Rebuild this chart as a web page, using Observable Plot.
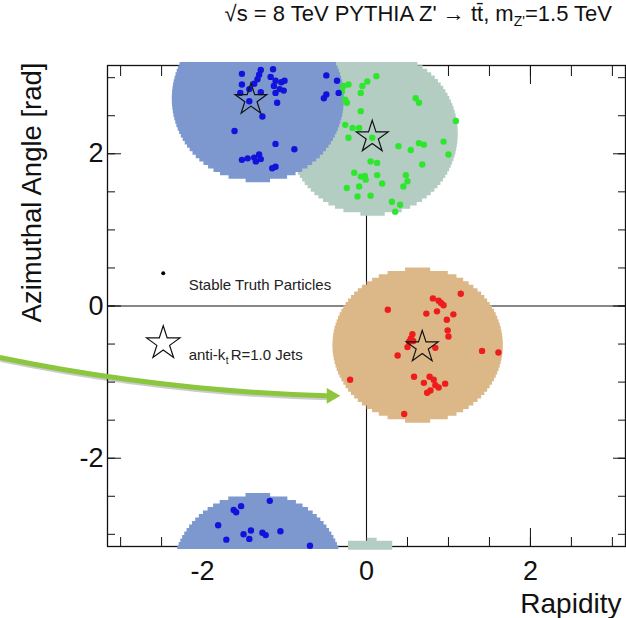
<!DOCTYPE html>
<html>
<head>
<meta charset="utf-8">
<script src="https://cdn.jsdelivr.net/npm/d3@7"></script>
<script src="https://cdn.jsdelivr.net/npm/@observablehq/plot@0.6"></script>
<style>
  html, body { margin: 0; padding: 0; background: #fff; }
  #wrap { position: relative; width: 626px; height: 618px; font-family: "Liberation Sans", Arial, sans-serif; }
  #title { position: absolute; top: 0; left: 0; overflow: visible; }
</style>
</head>
<body>
<div id="wrap">
  <div id="chart"></div>
  <svg id="title" width="626" height="34" font-family="'Liberation Sans', Arial, sans-serif" fill="#111" font-size="22">
    <text x="612" y="21" text-anchor="end">√s = 8 TeV PYTHIA Z' → tt̄, m<tspan font-size="14" dy="5">Z'</tspan><tspan dy="-5">=1.5 TeV</tspan></text>
  </svg>
</div>
<script>
// ---------- data (rapidity, azimuthal angle) ----------
const blueParticles = [
  [-1.52,3.05],[-1.29,3.10],[-1.14,3.11],[-1.31,3.04],[-1.33,2.98],[-1.37,2.92],[-1.52,2.91],
  [-1.43,2.85],[-1.54,2.80],[-1.29,2.81],[-1.17,3.01],[-1.11,2.96],[-1.04,2.94],[-1.00,2.96],
  [-1.13,2.89],[-1.06,2.85],[-1.01,2.83],[-1.11,2.80],[-1.43,2.69],[-1.09,2.67],[-1.27,2.49],
  [-1.61,2.30],[-1.11,2.13],[-0.88,2.06],[-1.52,1.92],[-1.45,1.94],[-1.37,1.95],[-1.31,1.99],
  [-1.35,1.90],[-1.29,1.93],[-1.15,1.81],[-1.11,1.83],[-0.49,3.03],[-0.36,2.96],[-0.34,2.80],
  [-0.52,2.73],[-0.49,2.78],
  [-1.18,-2.56],[-1.53,-2.63],[-1.62,-2.68],[-1.59,-2.71],[-1.81,-2.88],[-1.71,-3.07],
  [-1.50,-3.00],[-1.43,-3.06],[-1.41,-2.95],[-1.27,-2.98],[-1.23,-3.01],[-1.05,-2.96],[-0.69,-3.15]
];
const greenParticles = [
  [-0.28,2.89],[-0.22,2.91],[-0.30,2.82],[-0.26,2.71],[-0.24,2.67],[-0.07,2.80],[-0.05,2.89],
  [0.01,2.95],[0.12,3.02],[-0.07,2.56],[0.60,2.73],[0.64,2.67],[1.09,2.43],[-0.26,2.38],
  [-0.17,2.34],[-0.09,2.34],[-0.22,2.21],[0.07,2.21],[0.39,2.10],[0.54,2.05],[0.64,2.14],
  [0.70,2.12],[0.94,2.16],[1.00,1.99],[0.68,1.86],[0.05,1.90],[0.13,1.88],[-0.15,1.75],
  [-0.07,1.70],[-0.02,1.71],[-0.01,1.66],[0.13,1.72],[0.19,1.61],[0.48,1.72],[0.50,1.64],
  [0.45,1.57],[-0.24,1.55],[-0.09,1.57],[-0.11,1.44],[0.05,1.45],[0.31,1.37],[0.41,1.33],[0.35,1.24]
];
const redParticles = [
  [1.15,0.16],[0.81,0.10],[0.88,0.07],[0.91,0.04],[0.94,0.01],[0.86,-0.07],[0.73,-0.10],
  [1.06,-0.11],[0.98,-0.18],[0.26,-0.05],[0.99,-0.32],[1.00,-0.40],[0.56,-0.37],[0.54,-0.43],
  [0.52,-0.47],[0.57,-0.46],[0.50,-0.54],[0.84,-0.55],[0.38,-0.65],[1.41,-0.59],[1.61,-0.61],
  [-0.20,-0.97],[0.58,-0.93],[0.70,-1.01],[0.77,-0.93],[0.82,-0.97],[0.84,-1.04],[0.78,-1.11],
  [0.88,-1.07],[0.96,-1.02],[0.74,-1.14],[0.46,-1.42]
];
const jetAxes = [[-1.41,2.71],[0.07,2.22],[0.68,-0.54]];
// jet catchment areas: centre and half-extent (rapidity, azimuth)
const areaCenterX = [-1.32, 0.08, 0.63];
const areaCenterY = [2.72, 2.26, -0.52];
const areaHalfX   = [1.05, 1.04, 1.04];
const areaHalfY   = [1.10, 1.08, 1.02];
const areaWraps   = [true, false, false];
// small wrapped sliver of the green jet at phi = -pi: [phi, x1, x2]
const greenSliver = [[-3.21,-0.22,0.32],[-3.09,-0.22,0.32],[-3.09,0.01,0.13],[-3.05,0.01,0.13]];
// legend
const legendDot = [[-2.48, 0.43]];
const legendStar = [[-2.48, -0.49]];
const legendText = [{x:-2.17, y:0.27, t:"Stable Truth Particles"}];
const legendJet = [{x:-2.17, y:-0.64}];
// arrow annotation
const arrowLine = [{x1:-4.46, y1:-0.68, x2:-0.49, y2:-1.18}];
const arrowHead = [[-0.43, -1.18]];
const xMinor = d3.range(-3, 3.001, 0.5), xMajor = [-2, 0, 2];
const yMinor = d3.range(-3, 3.001, 0.5), yMajor = [-2, 0, 2];

// ---------- styles ----------
const areaColors = ["#7c98cf", "#b3cdc3", "#dcb889"];
const dotColors = ["#1212dc", "#2ee62e", "#ee1c1c"];
const arrowColor = "#8cc63f";
const LIM = 3.2, TWO_PI = 2 * Math.PI, ROW = 0.045;

function areaRows(i) {
  const cx = areaCenterX[i], cy = areaCenterY[i], rx = areaHalfX[i], ry = areaHalfY[i];
  const main = [], wrapped = [];
  const hw = p => rx * Math.sqrt(Math.max(0, 1 - ((p - cy) / ry) ** 2));
  const lo = Math.max(cy - ry, -LIM), hi = Math.min(cy + ry, LIM);
  let n = Math.max(2, Math.round((hi - lo) / ROW));
  for (let k = 0; k <= n; k++) { const p = lo + (hi - lo) * k / n; main.push({phi: p, x1: cx - hw(p), x2: cx + hw(p)}); }
  if (areaWraps[i] && cy + ry > TWO_PI - LIM) {
    const a = TWO_PI - LIM, b = cy + ry;
    n = Math.max(2, Math.round((b - a) / ROW));
    for (let k = 0; k <= n; k++) { const p = a + (b - a) * k / n; wrapped.push({phi: p - TWO_PI, x1: cx - hw(p), x2: cx + hw(p)}); }
  }
  return [main, wrapped];
}

const marks = [];
// axes (ticks inward, ROOT style)
const noText = () => "";
marks.push(
  Plot.ruleX([0], {stroke: "#111", strokeWidth: 1.1}),
  Plot.ruleY([0], {stroke: "#111", strokeWidth: 1.1}),
  Plot.axisX(xMinor, {anchor: "bottom", tickSize: -9, tickFormat: noText, label: null}),
  Plot.axisX(xMajor, {anchor: "bottom", tickSize: -18, tickFormat: noText, label: null}),
  Plot.axisX(xMinor, {anchor: "top", tickSize: -10, tickFormat: noText, label: null}),
  Plot.axisX(xMajor, {anchor: "top", tickSize: -18, tickFormat: noText, label: null}),
  Plot.axisY(yMinor, {anchor: "left", tickSize: -8, tickFormat: noText, label: null}),
  Plot.axisY(yMajor, {anchor: "left", tickSize: -14, tickFormat: noText, label: null}),
  Plot.axisY(yMinor, {anchor: "right", tickSize: -8, tickFormat: noText, label: null}),
  Plot.axisY(yMajor, {anchor: "right", tickSize: -13, tickFormat: noText, label: null}),
  Plot.axisX(xMajor, {anchor: "bottom", tickSize: 0, tickPadding: 14, fontSize: 27, tickFormat: d => String(d), label: null}),
  Plot.axisY(yMajor, {anchor: "left", tickSize: 0, tickPadding: 4, fontSize: 27, tickFormat: d => String(d), label: null}),
  Plot.frame({stroke: "#111", strokeWidth: 1.3})
);
// jet areas: green, orange, then blue on top
for (const i of [1, 2, 0]) {
  for (const rows of areaRows(i)) {
    if (rows.length) marks.push(Plot.areaX(rows, {y: "phi", x1: "x1", x2: "x2", fill: areaColors[i], curve: "step"}));
  }
  if (i === 1) marks.push(Plot.areaX(greenSliver.map(([phi, x1, x2]) => ({phi, x1, x2})), {y: "phi", x1: "x1", x2: "x2", fill: areaColors[1]}));
}
// particles
[[greenParticles, 1], [redParticles, 2], [blueParticles, 0]].forEach(([pts, c]) =>
  marks.push(Plot.dot(pts, {x: d => d[0], y: d => d[1], r: 3.2, fill: dotColors[c], stroke: "none"})));
// jet axes
marks.push(Plot.dot(jetAxes, {x: d => d[0], y: d => d[1], symbol: "star", r: 10, fill: "none", stroke: "#111", strokeWidth: 1.2}));
// legend
marks.push(
  Plot.dot(legendDot, {x: d => d[0], y: d => d[1], r: 2, fill: "#000"}),
  Plot.dot(legendStar, {x: d => d[0], y: d => d[1], symbol: "star", r: 10.5, fill: "none", stroke: "#111", strokeWidth: 1.2}),
  Plot.text(legendText, {x: "x", y: "y", text: "t", textAnchor: "start", fontSize: 15, fill: "#222"}),
  Plot.text(legendJet, {x: "x", y: "y", text: () => "anti-k", textAnchor: "start", fontSize: 15, fill: "#222"}),
  Plot.text(legendJet, {x: "x", y: "y", text: () => "t", textAnchor: "start", fontSize: 10, dx: 37, dy: 6, fill: "#222"}),
  Plot.text(legendJet, {x: "x", y: "y", text: () => "R=1.0 Jets", textAnchor: "start", fontSize: 15, dx: 42, fill: "#222"})
);
// axis titles
marks.push(
  Plot.text(["Azimuthal Angle [rad]"], {frameAnchor: "top-left", text: d => d, rotate: -90, textAnchor: "end", lineAnchor: "middle", dx: -75, dy: -3, fontSize: 27.5, fill: "#111"}),
  Plot.text(["Rapidity"], {frameAnchor: "bottom-right", text: d => d, textAnchor: "end", lineAnchor: "middle", dx: -4, dy: 58, fontSize: 28, fill: "#111"})
);
// arrow annotation
marks.push(
  Plot.arrow(arrowLine, {x1: "x1", y1: "y1", x2: "x2", y2: "y2", bend: -5, headLength: 0, stroke: "#000", strokeOpacity: 0.2, strokeWidth: 5, dx: 1, dy: 2}),
  Plot.arrow(arrowLine, {x1: "x1", y1: "y1", x2: "x2", y2: "y2", bend: -5, headLength: 0, stroke: arrowColor, strokeWidth: 5}),
  Plot.dot(arrowHead, {x: d => d[0], y: d => d[1], symbol: "triangle2", r: 7.5, rotate: 90, fill: arrowColor, stroke: "none"})
);

const chart = Plot.plot({
  width: 626, height: 618,
  marginLeft: 107, marginRight: 1, marginTop: 65, marginBottom: 72,
  x: {domain: [-3.16, 3.16]},
  y: {domain: [-3.16, 3.16]},
  style: {fontFamily: "'Liberation Sans', Arial, sans-serif", background: "#fff", color: "#111"},
  marks
});
document.getElementById("chart").appendChild(chart);
</script>
</body>
</html>
